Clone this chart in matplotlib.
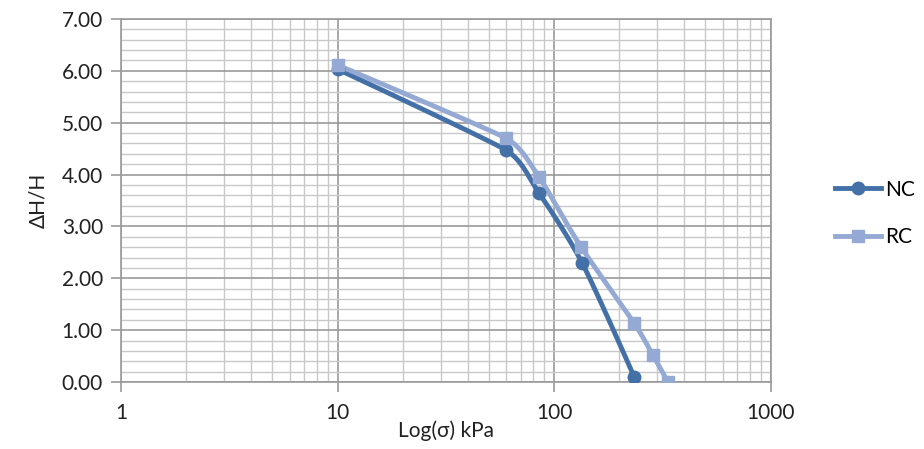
import numpy as np
import matplotlib
matplotlib.use("Agg")
import matplotlib.pyplot as plt
from matplotlib.ticker import FixedLocator, NullFormatter, FormatStrFormatter

# values
nc_sigma = [10, 60, 85, 135, 235]
nc_dh = [6.03, 4.47, 3.65, 2.29, 0.09]
rc_sigma = [10, 60, 85, 133, 235, 286, 336]
rc_dh = [6.11, 4.70, 3.96, 2.61, 1.13, 0.52, 0.00]

NC_COLOR = '#4470A8'
RC_COLOR = '#94A9D4'

# rough pixel scale of the plot area, used only for the smoothing
PX_DECADE = 216.0
PX_UNIT = 51.9


def smooth(xs, ys, n=40):
    # bezier smoothing in screen space, handle length tied to the shorter neighbour
    P = np.column_stack([np.log10(xs) * PX_DECADE, np.asarray(ys, float) * PX_UNIT])
    m = len(P)
    tang = np.zeros_like(P)
    hl = np.zeros(m)
    for i in range(1, m - 1):
        d = P[i + 1] - P[i - 1]
        tang[i] = d / np.linalg.norm(d)
        hl[i] = 0.35 * min(np.linalg.norm(P[i] - P[i - 1]), np.linalg.norm(P[i + 1] - P[i]))
    out = []
    t = np.linspace(0, 1, n)[:, None]
    for i in range(m - 1):
        p0, p3 = P[i], P[i + 1]
        p1 = p0 + tang[i] * hl[i]
        p2 = p3 - tang[i + 1] * hl[i + 1]
        c = ((1 - t) ** 3 * p0 + 3 * (1 - t) ** 2 * t * p1
             + 3 * (1 - t) * t ** 2 * p2 + t ** 3 * p3)
        out.append(c)
    out = np.vstack(out)
    return 10 ** (out[:, 0] / PX_DECADE), out[:, 1] / PX_UNIT


plt.rcParams['font.family'] = ['Lato', 'DejaVu Sans']

fig = plt.figure(figsize=(9.24, 4.49), dpi=100)
ax = fig.add_axes([0.131, 0.149, 0.703, 0.809])

ax.set_xscale('log')
ax.set_xlim(1, 1000)
ax.set_ylim(0, 7)

ax.xaxis.set_major_locator(FixedLocator([1, 10, 100, 1000]))
ax.xaxis.set_major_formatter(FormatStrFormatter('%g'))
minors = [m * d for d in (1, 10, 100) for m in range(2, 10)]
ax.xaxis.set_minor_locator(FixedLocator(minors))
ax.xaxis.set_minor_formatter(NullFormatter())
ax.yaxis.set_major_locator(FixedLocator(np.arange(0, 7.01, 1)))
ax.yaxis.set_major_formatter(FormatStrFormatter('%.2f'))
ax.yaxis.set_minor_locator(FixedLocator(np.arange(0, 7.01, 0.2)))

ax.grid(which='major', color='#9a9a9a', linewidth=1.2)
ax.grid(which='minor', color='#c8c8c8', linewidth=1.0)
ax.set_axisbelow(True)

for s in ax.spines.values():
    s.set_color('#9a9a9a')
    s.set_linewidth(1.2)

ax.tick_params(which='major', length=7, width=1.2, color='#9a9a9a',
               labelsize=15, labelcolor='#222222', pad=6)
ax.tick_params(axis='x', which='major', pad=8)
ax.tick_params(which='minor', length=0)

sx, sy = smooth(nc_sigma, nc_dh)
ax.plot(sx, sy, color=NC_COLOR, linewidth=3.5, solid_capstyle='round', zorder=3)
ax.plot(nc_sigma, nc_dh, 'o', color=NC_COLOR, markersize=9, zorder=4)
sx, sy = smooth(rc_sigma, rc_dh)
ax.plot(sx, sy, color=RC_COLOR, linewidth=3.5, solid_capstyle='round', zorder=3)
ax.plot(rc_sigma, rc_dh, 's', color=RC_COLOR, markersize=9, zorder=4)

# legend handles
h1, = ax.plot([], [], '-o', color=NC_COLOR, linewidth=3.5, markersize=9, label='NC')
h2, = ax.plot([], [], '-s', color=RC_COLOR, linewidth=3.5, markersize=9, label='RC')
fig.legend(handles=[h1, h2], loc='center left', bbox_to_anchor=(0.895, 0.525),
           frameon=False, fontsize=15, handlelength=2.2, labelspacing=1.3,
           handletextpad=0.2, borderaxespad=0, bbox_transform=fig.transFigure)

ax.set_xlabel('Log(σ) kPa', fontsize=15, color='#222222', labelpad=-2)
ax.set_ylabel('ΔH/H', fontsize=15, color='#222222', labelpad=10)

fig.savefig('out.png', dpi=100)
